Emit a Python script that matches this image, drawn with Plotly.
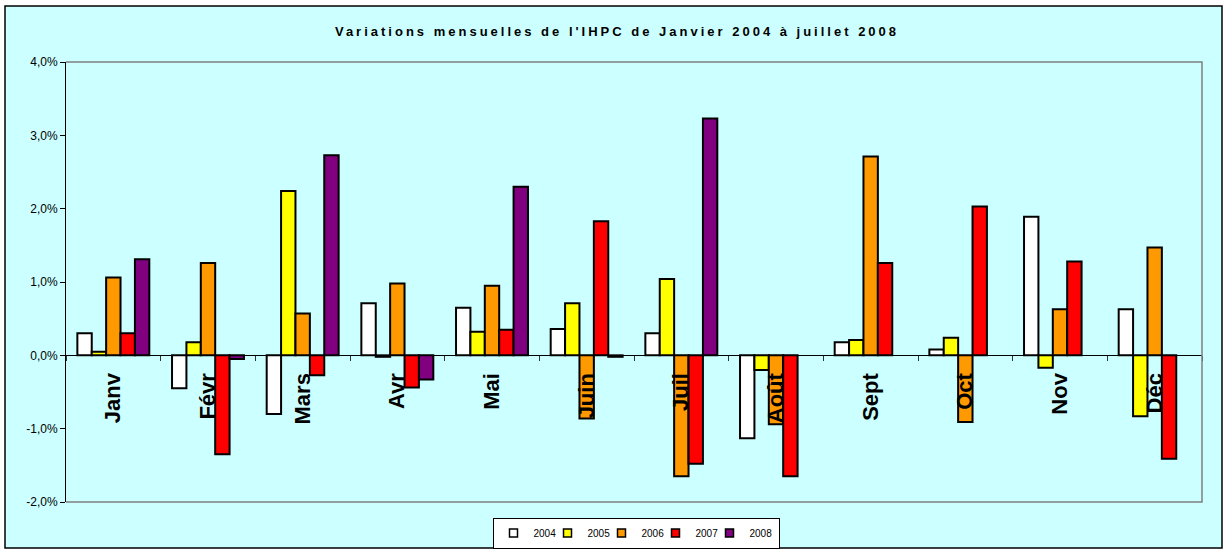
import plotly.graph_objects as go

months = ["Janv", "Févr", "Mars", "Avr", "Mai", "Juin", "Juil", "Août", "Sept", "Oct", "Nov", "Déc"]
years = ["2004", "2005", "2006", "2007", "2008"]

v2004 = [0.30, -0.45, -0.80, 0.71, 0.65, 0.36, 0.30, -1.13, 0.18, 0.08, 1.89, 0.63]
v2005 = [0.05, 0.18, 2.24, -0.02, 0.32, 0.71, 1.04, -0.20, 0.21, 0.24, -0.17, -0.83]
v2006 = [1.06, 1.26, 0.57, 0.98, 0.95, -0.86, -1.65, -0.94, 2.71, -0.91, 0.63, 1.47]
v2007 = [0.30, -1.35, -0.27, -0.44, 0.35, 1.83, -1.48, -1.65, 1.26, 2.03, 1.28, -1.41]
v2008 = [1.31, -0.05, 2.73, -0.33, 2.30, -0.02, 3.23, None, None, None, None, None]

series = [v2004, v2005, v2006, v2007, v2008]
colors = ["#FFFFFF", "#FFFF00", "#FF9900", "#FF0000", "#800080"]

y_ticks = [-2, -1, 0, 1, 2, 3, 4]
y_ticktext = ["-2,0%", "-1,0%", "0,0%", "1,0%", "2,0%", "3,0%", "4,0%"]
y_range = [-2, 4]

title = "Variations mensuelles de l'IHPC de Janvier 2004 à juillet 2008"

# page geometry (pixels)
W, H = 1228, 552
ml, mr, mt, mb = 66, 26, 62, 0          # figure margins
plot_bottom = 502                        # bottom edge of the grey plot area
pw = W - ml - mr
ph_paper = H - mt - mb
dom0 = (H - mb - plot_bottom) / ph_paper  # y-domain start so the legend stays inside paper
FONT = "Liberation Sans, Arial, sans-serif"


def px_x(p):
    return (p - ml) / pw


def px_y(p):
    return (H - mb - p) / ph_paper


fig = go.Figure()
for name, vals, col in zip(years, series, colors):
    fig.add_trace(go.Bar(
        x=months, y=vals, name=name, legendgroup=name, showlegend=False,
        marker=dict(color=col, line=dict(color="black", width=2)),
    ))
# legend keys (small squares, as in the original)
for i, (name, col) in enumerate(zip(years, colors)):
    fig.add_trace(go.Scatter(
        x=[None], y=[None], mode="markers", name=name, legendgroup=name,
        legendwidth=24 if i == len(years) - 1 else None,
        marker=dict(symbol="square", size=8, color=col, line=dict(color="black", width=1.5)),
    ))

zero_pos = dom0 + (1 - dom0) * (0 - y_range[0]) / (y_range[1] - y_range[0])

fig.update_layout(
    width=W, height=H,
    margin=dict(l=ml, r=mr, t=mt, b=mb, pad=0, autoexpand=False),
    paper_bgcolor="white",
    plot_bgcolor="#C0C0C0",
    barmode="group", bargap=0.24, bargroupgap=0,
    font=dict(family=FONT, color="black"),
    title=dict(
        text='<span style="letter-spacing:3px">' + title + '</span>',
        x=617 / W, xanchor="center", y=1 - 31 / H, yanchor="middle",
        font=dict(size=13, family=FONT, weight="bold", color="black"),
    ),
    xaxis=dict(
        anchor="free", position=zero_pos,
        showline=True, linecolor="black", linewidth=1,
        ticks="outside", ticklen=5, tickcolor="#333333", tickson="boundaries",
        tickangle=-90, ticklabelstandoff=8,
        tickfont=dict(size=22, weight="bold", family=FONT, color="black"),
        showgrid=False, zeroline=False,
    ),
    yaxis=dict(
        domain=[dom0, 1],
        range=y_range, tickvals=y_ticks, ticktext=y_ticktext,
        showline=True, linecolor="black", linewidth=1,
        ticks="outside", ticklen=5, tickcolor="black",
        tickfont=dict(size=12, family=FONT, color="black"),
        showgrid=False, zeroline=False,
    ),
    legend=dict(
        orientation="h", x=px_x(636), xanchor="center", y=px_y(533), yanchor="middle",
        bgcolor="white", bordercolor="black", borderwidth=1,
        font=dict(size=10, family=FONT, color="black"),
        itemwidth=30, traceorder="normal", entrywidth=9, entrywidthmode="pixels",
        tracegroupgap=0,
    ),
    shapes=[
        dict(type="rect", xref="paper", yref="paper", layer="below",
             x0=px_x(5), x1=px_x(1222), y0=px_y(548), y1=px_y(6),
             fillcolor="#CCFFFF", line=dict(color="black", width=1.5)),
        dict(type="path", xref="paper", yref="paper", layer="above",
             path=f"M 0 1 L 1 1 L 1 {dom0} L 0 {dom0}",
             line=dict(color="#808080", width=1.5)),
    ],
)

fig.write_html("out.html", config={"displayModeBar": False},
               post_script="document.body.style.margin='0';")
